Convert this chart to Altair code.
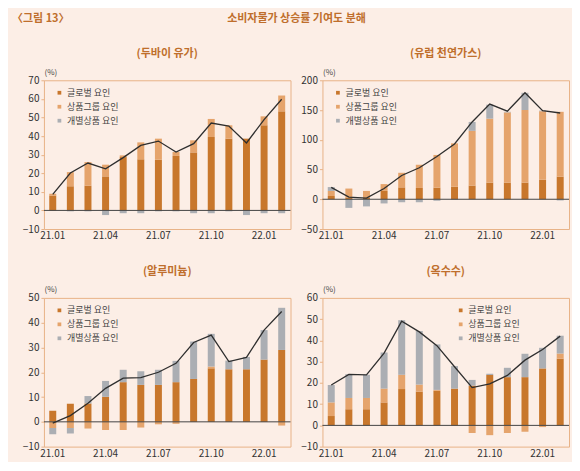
import altair as alt
import pandas as pd

months = ["21.01", "21.02", "21.03", "21.04", "21.05", "21.06", "21.07",
          "21.08", "21.09", "21.10", "21.11", "21.12", "22.01", "22.02"]
tick_months = ["21.01", "21.04", "21.07", "21.10", "22.01"]
factors = ["글로벌 요인", "상품그룹 요인", "개별상품 요인"]
colors = ["#C8772C", "#E5A46C", "#ABAEB3"]

# Dubai oil
dubai_global = [8, 13, 13.3, 18.3, 28.7, 27.5, 27.3, 29.3, 31.2, 39.5, 38.6, 38.6, 45.8, 53.3]
dubai_group = [1, 7.6, 12.7, 6.3, 0.9, 9.1, 11.3, 2.1, 6.5, 9.7, 7.2, 0, 4.8, 8.5]
dubai_indiv = [0, -0.5, -0.5, -2.5, -1.5, -1.5, -0.5, -0.5, -1.5, -1.5, -0.5, -2.5, -1.5, -1.5]
dubai_total = [8.6, 20.1, 25.5, 22.4, 28.4, 35, 37.3, 31.4, 35.9, 47, 45.4, 36.3, 48.8, 59.8]

# European natural gas
gas_global = [5.5, 3, 3, 14, 20, 19, 19.5, 21, 23, 28, 28, 28, 33, 38]
gas_group = [8.5, 15, 11, 11.5, 24.5, 39, 55, 73, 92, 107.5, 118, 122, 115, 109]
gas_indiv = [6.5, -14.5, -12, -7, -5, -5, -2.5, -1, 15, 23.5, 1, 29, 1, -2]
gas_total = [20, 3.5, 2, 18, 40, 53, 72, 93, 130, 160, 148, 179, 149, 145]

# Aluminium
alu_global = [4.5, 7.3, 7.4, 10.1, 16, 14.9, 14.9, 16, 17.3, 21.6, 21.2, 21.2, 25.1, 29]
alu_group = [-2.5, -2.5, -2.7, -3.3, -3.3, -2.3, -1, -0.8, 0, 0.7, 0, 0, 0, -1.5]
alu_indiv = [-2.5, -2.2, 3, 6.4, 5, 5.5, 6.1, 8.6, 15.1, 13.2, 3.5, 5, 11.9, 17]
alu_total = [-0.5, 2.5, 7.5, 13.5, 17.6, 17.8, 20, 23.6, 32, 35, 24.3, 26, 37, 44.5]

# Corn
corn_global = [4.4, 7.6, 7.6, 10.8, 17.1, 15.9, 16.3, 17.3, 18.7, 23.7, 22.7, 22.7, 26.8, 31.4]
corn_group = [6.4, 5.3, 5.3, 6.5, 6.7, 3.3, 0.4, 0, -3.6, -4.6, -3.6, -3, -0.8, 2.4]
corn_indiv = [8.2, 11.2, 10.9, 17, 25.7, 25.2, 21.4, 10.6, 2.7, 0.6, 4.4, 11, 9.7, 8.4]
corn_total = [19, 24, 23.8, 34, 49, 44, 37.5, 27.6, 17.8, 19.5, 23.5, 30.7, 35.7, 42]

FONT = "Noto Sans CJK KR"
TITLE_COLOR = "#BF6E2C"
FRAME = "#E8B388"
W, H = 247, 149


def panel(title, g, c, i, t, ymin, ymax, ystep, lx, ly):
    rows = []
    for k, m in enumerate(months):
        for o, (f, v) in enumerate(zip(factors, [g[k], c[k], i[k]])):
            rows.append({"month": m, "factor": f, "value": v, "ord": o})
    df = pd.DataFrame(rows)
    dt = pd.DataFrame({"month": months, "total": t})

    xaxis = alt.Axis(values=tick_months, labelAngle=0, title=None,
                     ticks=False, domain=False, labelPadding=2,
                     labelFontSize=10, labelColor="#333")
    xscale = alt.Scale(paddingInner=0.6, paddingOuter=0.3)
    yscale = alt.Scale(domain=[ymin, ymax], nice=False, zero=False)
    yaxis = alt.Axis(values=list(range(ymin, ymax + 1, ystep)), grid=False,
                     domain=False, tickColor=FRAME, tickSize=3, labelPadding=2,
                     labelFontSize=10, labelColor="#333", minExtent=30,
                     labelOverlap=False,
                     title="(%)", titleAngle=0, titleAlign="left",
                     titleBaseline="bottom", titleX=0, titleY=-4,
                     titleFontSize=8, titleFontWeight="normal", titleColor="#444")

    bars = alt.Chart(df).mark_bar(size=7).encode(
        x=alt.X("month:O", sort=months, scale=xscale, axis=xaxis),
        y=alt.Y("value:Q", stack="zero", scale=yscale, axis=yaxis),
        color=alt.Color("factor:N", sort=factors,
                        scale=alt.Scale(domain=factors, range=colors),
                        legend=alt.Legend(title=None, orient="none",
                                          legendX=lx, legendY=ly,
                                          symbolType="square", symbolSize=14,
                                          symbolStrokeWidth=0,
                                          labelFontSize=9, labelColor="#444",
                                          labelOffset=3, rowPadding=4,
                                          padding=0)),
        order=alt.Order("ord:Q"),
    )
    zero = alt.Chart(pd.DataFrame({"z": [0]})).mark_rule(
        color="#444", strokeWidth=1).encode(
        y=alt.Y("z:Q", scale=yscale, axis=yaxis))
    line = alt.Chart(dt).mark_line(color="#2E2E2E", strokeWidth=1.3).encode(
        x=alt.X("month:O", sort=months, scale=xscale, axis=xaxis),
        y=alt.Y("total:Q", scale=yscale, axis=yaxis))
    return alt.layer(bars, zero, line).properties(
        width=W, height=H,
        title=alt.TitleParams(title, fontSize=11, fontWeight="bold",
                              color=TITLE_COLOR, anchor="middle", frame="group",
                              baseline="bottom", offset=-2),
    )


p1 = panel("(두바이 유가)", dubai_global, dubai_group, dubai_indiv, dubai_total,
           -10, 70, 10, 11, 8)
p2 = panel("(유럽 천연가스)", gas_global, gas_group, gas_indiv, gas_total,
           -50, 200, 50, 11, 8)
p3 = panel("(알루미늄)", alu_global, alu_group, alu_indiv, alu_total,
           -10, 50, 10, 11, 8)
p4 = panel("(옥수수)", corn_global, corn_group, corn_indiv, corn_total,
           -10, 60, 10, 134, 8)

hd = pd.DataFrame({"a": [0]})
fig_label = alt.Chart(hd).mark_text(
    text="〈그림 13〉", align="left", baseline="middle", fontSize=11,
    fontWeight="bold", color=TITLE_COLOR).encode(x=alt.value(-32), y=alt.value(5.5))
main_title = alt.Chart(hd).mark_text(
    text="소비자물가 상승률 기여도 분해", align="center", baseline="middle",
    fontSize=11, fontWeight="bold", color=TITLE_COLOR).encode(
    x=alt.value(253), y=alt.value(5.5))
header = alt.layer(fig_label, main_title).properties(
    width=520, height=8, view=alt.ViewBackground(strokeWidth=0))

row1 = alt.hconcat(p1, p2, spacing=0).resolve_scale(color="independent")
row2 = alt.hconcat(p3, p4, spacing=0).resolve_scale(color="independent")

chart = alt.vconcat(header, row1, row2, spacing=23).resolve_scale(
    color="independent"
).properties(
    padding={"left": 4, "top": 4, "right": 2, "bottom": 2}
).configure(
    background="#FCEEE6", font=FONT
).configure_view(
    stroke=FRAME, strokeWidth=1
).configure_axisY(
    labelOverlap=False
)

chart.save("out.html", embed_options={"renderer": "svg", "actions": False})
